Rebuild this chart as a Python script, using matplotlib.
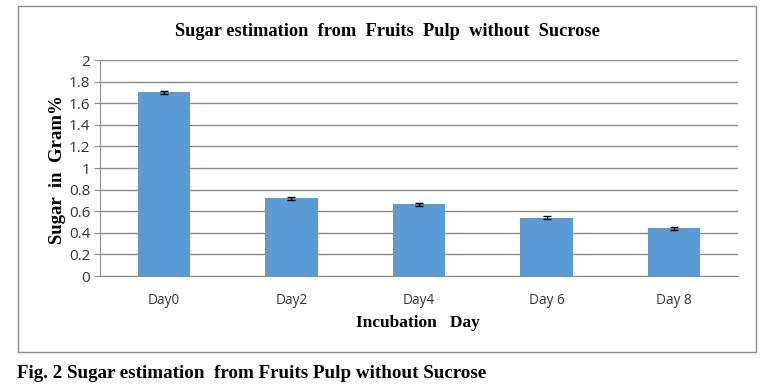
import matplotlib.pyplot as plt
from matplotlib.patches import Rectangle

days = ["Day0", "Day2", "Day4", "Day 6", "Day 8"]
sugar = [1.70, 0.72, 0.665, 0.54, 0.44]
sugar_err = [0.013, 0.015, 0.013, 0.013, 0.013]
yticks = [0, 0.2, 0.4, 0.6, 0.8, 1, 1.2, 1.4, 1.6, 1.8, 2]

W, H = 768, 390
fig = plt.figure(figsize=(W / 100, H / 100), dpi=100)

# outer chart frame
fig.patches.append(Rectangle((18 / W, 1 - 352 / H), 738 / W, 346 / H,
                             transform=fig.transFigure, fill=False,
                             edgecolor="#8c8c8c", linewidth=1.0))

ax = fig.add_axes([100 / W, 1 - 276 / H, 638 / W, 216 / H])
x = range(len(days))
ax.bar(x, sugar, width=0.41, color="#5b9bd5", zorder=2)
ax.errorbar(x, sugar, yerr=sugar_err, fmt="none", ecolor="black",
            elinewidth=1, capsize=3, capthick=1, zorder=3)

ax.set_xlim(-0.5, len(days) - 0.5)
ax.set_ylim(0, 2)
ax.set_yticks(yticks)
ax.set_yticklabels([f"{v:g}" for v in yticks], fontsize=11,
                   family="Open Sans", color="#333333")
ax.set_xticks(list(x))
ax.set_xticklabels(days, fontsize=9.8, family="Open Sans", color="#333333")
ax.yaxis.grid(True, color="#8c8c8c", linewidth=1, zorder=0)
for s in ["top", "right"]:
    ax.spines[s].set_visible(False)
ax.spines["left"].set_color("#8c8c8c")
ax.spines["bottom"].set_color("#8c8c8c")
ax.tick_params(axis="y", length=4, color="#8c8c8c", pad=3)
ax.tick_params(axis="x", length=0, pad=12)

fig.text(387 / W, 1 - 31 / H, "Sugar estimation  from  Fruits  Pulp  without  Sucrose",
         ha="center", va="center", fontsize=13.2, fontweight="bold",
         family="Liberation Serif")
fig.text(57 / W, 1 - 170 / H, "Sugar  in  Gram%", rotation=90, ha="center",
         va="center", fontsize=13.5, fontweight="bold", family="Liberation Serif")
fig.text(418 / W, 1 - 323 / H, "Incubation   Day", ha="center", va="center",
         fontsize=12.5, fontweight="bold", family="Liberation Serif")
fig.text(17 / W, 1 - 373 / H, "Fig. 2 Sugar estimation  from Fruits Pulp without Sucrose",
         ha="left", va="center", fontsize=13.7, fontweight="bold",
         family="Liberation Serif")

fig.savefig("out.png", dpi=100)
